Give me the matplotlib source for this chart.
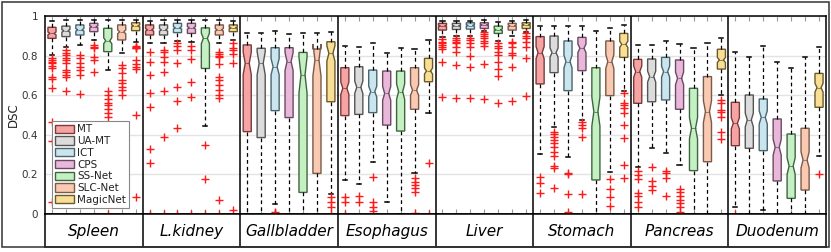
import matplotlib
matplotlib.use('Agg')
import matplotlib.pyplot as plt
import numpy as np
from matplotlib.patches import Rectangle, Patch

organs = ['Spleen', 'L.kidney', 'Gallbladder', 'Esophagus', 'Liver', 'Stomach', 'Pancreas', 'Duodenum']
methods = ['MT', 'UA-MT', 'ICT', 'CPS', 'SS-Net', 'SLC-Net', 'MagicNet']

face_colors = ['#F5A3A3', '#DCDCDC', '#CBE5EE', '#E9B7DA', '#C4F0C4', '#F9C9B1', '#F9DF95']
edge_colors = ['#7A3A3A', '#555555', '#4A6470', '#6A4A60', '#3F653F', '#7A5A4A', '#6A5A2A']

# rows = organs, columns = methods
whishi = [
    [0.975, 0.978, 0.978, 0.980, 0.980, 0.978, 0.978],
    [0.975, 0.978, 0.978, 0.978, 0.980, 0.978, 0.975],
    [0.912, 0.912, 0.926, 0.907, 0.912, 0.912, 0.917],
    [0.848, 0.842, 0.865, 0.815, 0.837, 0.833, 0.879],
    [0.975, 0.975, 0.975, 0.978, 0.970, 0.975, 0.978],
    [0.949, 0.949, 0.949, 0.949, 0.926, 0.938, 0.955],
    [0.854, 0.854, 0.875, 0.857, 0.837, 0.862, 0.887],
    [0.816, 0.795, 0.848, 0.769, 0.739, 0.791, 0.842],
]
q3 = [
    [0.943, 0.949, 0.955, 0.963, 0.938, 0.955, 0.966],
    [0.955, 0.955, 0.963, 0.963, 0.940, 0.955, 0.955],
    [0.854, 0.837, 0.840, 0.840, 0.816, 0.833, 0.870],
    [0.739, 0.744, 0.727, 0.722, 0.722, 0.739, 0.786],
    [0.963, 0.963, 0.966, 0.966, 0.949, 0.963, 0.966],
    [0.896, 0.899, 0.874, 0.892, 0.739, 0.874, 0.912],
    [0.781, 0.783, 0.791, 0.778, 0.635, 0.694, 0.832],
    [0.564, 0.601, 0.581, 0.480, 0.404, 0.433, 0.710],
]
med = [
    [0.912, 0.925, 0.930, 0.945, 0.875, 0.920, 0.950],
    [0.930, 0.930, 0.940, 0.940, 0.887, 0.930, 0.940],
    [0.761, 0.761, 0.744, 0.770, 0.702, 0.778, 0.811],
    [0.635, 0.640, 0.618, 0.609, 0.618, 0.626, 0.722],
    [0.950, 0.950, 0.952, 0.955, 0.930, 0.950, 0.955],
    [0.815, 0.815, 0.770, 0.837, 0.517, 0.770, 0.857],
    [0.719, 0.694, 0.719, 0.685, 0.433, 0.517, 0.778],
    [0.458, 0.475, 0.488, 0.337, 0.242, 0.273, 0.638],
]
q1 = [
    [0.887, 0.896, 0.904, 0.921, 0.820, 0.879, 0.926],
    [0.904, 0.904, 0.916, 0.912, 0.735, 0.904, 0.921],
    [0.416, 0.386, 0.522, 0.487, 0.109, 0.205, 0.567],
    [0.497, 0.503, 0.512, 0.449, 0.419, 0.529, 0.668],
    [0.929, 0.932, 0.934, 0.937, 0.912, 0.929, 0.937],
    [0.657, 0.714, 0.623, 0.724, 0.172, 0.598, 0.791],
    [0.559, 0.567, 0.576, 0.529, 0.219, 0.264, 0.732],
    [0.345, 0.332, 0.320, 0.167, 0.079, 0.121, 0.539],
]
whislo = [
    [0.803, 0.845, 0.854, 0.879, 0.727, 0.815, 0.870],
    [0.862, 0.862, 0.875, 0.870, 0.446, 0.862, 0.880],
    [0.000, 0.000, 0.050, 0.000, 0.000, 0.000, 0.100],
    [0.172, 0.152, 0.264, 0.062, 0.000, 0.209, 0.512],
    [0.896, 0.900, 0.900, 0.925, 0.875, 0.900, 0.920],
    [0.303, 0.441, 0.290, 0.475, 0.000, 0.214, 0.620],
    [0.239, 0.332, 0.306, 0.247, 0.000, 0.000, 0.601],
    [0.037, 0.000, 0.020, 0.000, 0.000, 0.000, 0.295],
]
outliers = [
    [  # Spleen
        [0.786, 0.778, 0.770, 0.765, 0.747, 0.739, 0.693, 0.684, 0.635, 0.466, 0.369, 0.059],
        [0.828, 0.815, 0.803, 0.790, 0.778, 0.761, 0.727, 0.719, 0.700, 0.694, 0.621],
        [0.803, 0.786, 0.761, 0.744, 0.727, 0.702, 0.606],
        [0.855, 0.845, 0.837, 0.795, 0.778, 0.715],
        [0.620, 0.600, 0.580, 0.560, 0.550, 0.530, 0.510, 0.490, 0.000],
        [0.752, 0.736, 0.710, 0.677, 0.663, 0.643, 0.626, 0.601],
        [0.850, 0.845, 0.840, 0.836, 0.778, 0.760, 0.744, 0.730, 0.500, 0.085],
    ],
    [  # L.kidney
        [0.820, 0.770, 0.700, 0.610, 0.540, 0.330, 0.260, 0.000],
        [0.828, 0.820, 0.795, 0.769, 0.719, 0.621, 0.390, 0.000],
        [0.862, 0.848, 0.828, 0.761, 0.640, 0.572, 0.436, 0.000],
        [0.848, 0.828, 0.781, 0.668, 0.589, 0.000],
        [0.348, 0.175, 0.000],
        [0.820, 0.810, 0.800, 0.795, 0.760, 0.694, 0.677, 0.652, 0.626, 0.600, 0.584, 0.071, 0.000],
        [0.862, 0.837, 0.828, 0.806, 0.764, 0.020],
    ],
    [  # Gallbladder
        [], [], [0.010, 0.005, 0.000], [], [], [], [0.087, 0.060, 0.037, 0.000],
    ],
    [  # Esophagus
        [0.084, 0.062, 0.000],
        [0.093, 0.059],
        [0.185, 0.060, 0.037, 0.015],
        [],
        [],
        [0.180, 0.163, 0.146, 0.130, 0.113, 0.007],
        [0.259, 0.000],
    ],
    [  # Liver
        [0.882, 0.870, 0.862, 0.853, 0.845, 0.832, 0.770, 0.589],
        [0.887, 0.879, 0.870, 0.862, 0.845, 0.820, 0.752, 0.584],
        [0.887, 0.879, 0.862, 0.845, 0.798, 0.741, 0.584],
        [0.920, 0.909, 0.899, 0.887, 0.875, 0.862, 0.848, 0.757, 0.579],
        [0.862, 0.848, 0.837, 0.820, 0.803, 0.770, 0.730, 0.697, 0.562],
        [0.870, 0.862, 0.845, 0.815, 0.803, 0.744, 0.572],
        [0.912, 0.899, 0.887, 0.870, 0.845, 0.786, 0.596],
    ],
    [  # Stomach
        [0.185, 0.158, 0.104],
        [0.416, 0.404, 0.390, 0.374, 0.357, 0.337, 0.315, 0.293, 0.242, 0.231, 0.130],
        [0.205, 0.200, 0.100, 0.008],
        [0.466, 0.449, 0.433, 0.390, 0.100],
        [],
        [0.175, 0.125, 0.084, 0.040],
        [0.612, 0.562, 0.551, 0.534, 0.508, 0.449, 0.382, 0.247, 0.180],
    ],
    [  # Pancreas
        [0.219, 0.197, 0.175, 0.108, 0.091, 0.062, 0.034],
        [0.236, 0.168, 0.141, 0.121],
        [0.219, 0.205, 0.180, 0.093],
        [0.125, 0.111, 0.091, 0.071, 0.054, 0.034, 0.012],
        [],
        [],
        [0.576, 0.559, 0.525, 0.517, 0.488, 0.416, 0.377],
    ],
    [  # Duodenum
        [0.000], [], [], [], [], [], [0.202],
    ],
]
N_CASES = 150  # used for the notch (median confidence interval)
yticks = [0, 0.2, 0.4, 0.6, 0.8, 1.0]
ytick_labels = ['0', '0.2', '0.4', '0.6', '0.8', '1']

W, H = 831, 252
fig = plt.figure(figsize=(W / 100, H / 100), dpi=100)
ax_l, ax_r, ax_t, ax_b = 45, 826, 16, 214
ax = fig.add_axes([ax_l / W, 1 - ax_b / H, (ax_r - ax_l) / W, (ax_b - ax_t) / H])

n_m = len(methods)
stats, positions, fcs, ecs = [], [], [], []
for g in range(len(organs)):
    for m in range(n_m):
        iqr = q3[g][m] - q1[g][m]
        half = 1.57 * iqr / np.sqrt(N_CASES)
        stats.append(dict(med=med[g][m], q1=q1[g][m], q3=q3[g][m],
                          whislo=whislo[g][m], whishi=whishi[g][m],
                          fliers=np.array(outliers[g][m]),
                          cilo=med[g][m] - half, cihi=med[g][m] + half))
        positions.append(g * n_m + m + 0.5)
        fcs.append(face_colors[m])
        ecs.append(edge_colors[m])

bp = ax.bxp(stats, positions=positions, widths=0.58, shownotches=True,
            patch_artist=True, manage_ticks=False, capwidths=0.3,
            whiskerprops=dict(color='black', linestyle=(0, (3, 2.5)), linewidth=0.9),
            capprops=dict(color='black', linewidth=1.1),
            medianprops=dict(color='#444444', linewidth=0.5),
            flierprops=dict(marker='+', markeredgecolor='#FF1A1A', markersize=6,
                            markeredgewidth=1.0, linestyle='none'))
for i, box in enumerate(bp['boxes']):
    box.set_facecolor(fcs[i])
    box.set_edgecolor(ecs[i])
    box.set_linewidth(1.0)
for i, mline in enumerate(bp['medians']):
    mline.set_color(ecs[i])
for art in bp['fliers']:
    art.set_clip_on(True)

ax.set_xlim(0, len(organs) * n_m)
ax.set_ylim(0, 1)
ax.set_yticks(yticks)
ax.set_yticklabels(ytick_labels, fontsize=7.5, color='#333333')
ax.tick_params(axis='y', length=0, pad=5)
ax.set_xticks(positions)
ax.tick_params(axis='x', direction='in', top=True, bottom=True, length=3.5,
               color='#999999', width=0.8, labelbottom=False)
ax.yaxis.grid(True, color='#E3E3E3', linewidth=1.0)
ax.set_axisbelow(True)
for g in range(1, len(organs)):
    ax.axvline(g * n_m, color='black', linewidth=1.1)
for sp in ax.spines.values():
    sp.set_linewidth(1.1)
    sp.set_color('black')
ax.set_ylabel('DSC', fontsize=8.5, color='#222222', labelpad=1)

handles = [Patch(facecolor=face_colors[m], edgecolor=edge_colors[m], linewidth=1.0)
           for m in range(n_m)]
leg = ax.legend(handles, methods, loc='lower left', bbox_to_anchor=(0.009, 0.03),
                borderaxespad=0, fontsize=7.5, frameon=True, fancybox=False,
                framealpha=1, edgecolor='#888888', handlelength=1.8, handleheight=0.85,
                labelspacing=0.17, handletextpad=0.3, borderpad=0.3)
leg.get_frame().set_linewidth(0.8)
for t in leg.get_texts():
    t.set_color('#222222')
leg.set_zorder(10)

# category row
cb_t, cb_b = 214, 247
cax = fig.add_axes([ax_l / W, 1 - cb_b / H, (ax_r - ax_l) / W, (cb_b - cb_t) / H])
cax.set_xlim(0, len(organs))
cax.set_ylim(0, 1)
cax.set_xticks([])
cax.set_yticks([])
for sp in cax.spines.values():
    sp.set_linewidth(1.1)
for g in range(1, len(organs)):
    cax.axvline(g, color='black', linewidth=1.1)
for g, name in enumerate(organs):
    cax.text(g + 0.5, 0.47, name, ha='center', va='center', fontsize=11,
             style='italic', color='black')

fig.patches.append(Rectangle((2 / W, 1 - 247 / H), 827 / W, 245 / H, transform=fig.transFigure,
                             fill=False, edgecolor='#333333', linewidth=1.1))

fig.savefig('out.png', dpi=100)
